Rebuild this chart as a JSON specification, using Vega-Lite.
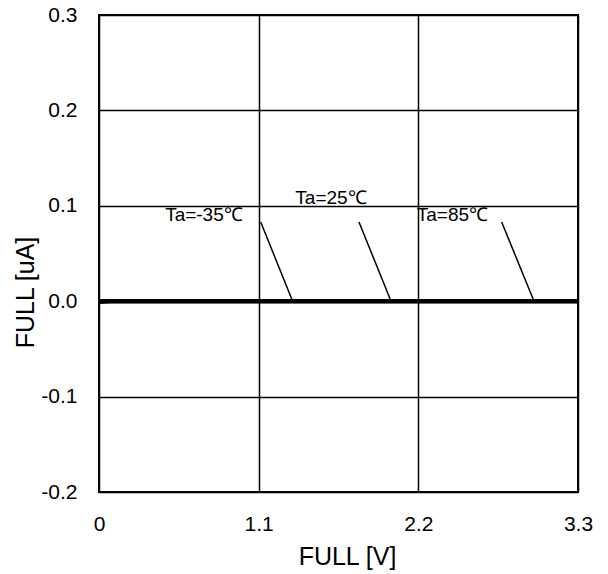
{
  "$schema": "https://vega.github.io/schema/vega-lite/v6.json",
  "autosize": {"type": "none"},
  "padding": {"left": 99, "top": 15, "right": 30, "bottom": 82},
  "width": 479,
  "height": 477,
  "background": "white",
  "config": {
    "font": "Liberation Sans",
    "view": {"stroke": "black", "strokeWidth": 2},
    "axis": {
      "domain": false,
      "ticks": false,
      "grid": true,
      "gridColor": "black",
      "gridOpacity": 1,
      "gridWidth": 1.5,
      "labelFont": "Liberation Sans",
      "labelFontSize": 21,
      "labelColor": "black",
      "titleFont": "Liberation Sans",
      "titleFontSize": 25,
      "titleFontWeight": "normal",
      "titleColor": "black"
    }
  },
  "datasets": {
    "curves": [
      {"series": "-35", "v": 0, "i": -0.0008},
      {"series": "-35", "v": 0.08, "i": 0.0},
      {"series": "-35", "v": 3.3, "i": 0.0},
      {"series": "25", "v": 0, "i": 0.0},
      {"series": "25", "v": 3.3, "i": 0.0},
      {"series": "85", "v": 0, "i": 0.0},
      {"series": "85", "v": 3.3, "i": 0.0}
    ],
    "leaders": [
      {"x1": 1.114, "y1": 0.083, "x2": 1.334, "y2": 0.0},
      {"x1": 1.791, "y1": 0.083, "x2": 2.012, "y2": 0.0},
      {"x1": 2.774, "y1": 0.083, "x2": 2.997, "y2": 0.0}
    ],
    "labels": [
      {"x": 0.723, "y": 0.090, "text": "Ta=-35℃"},
      {"x": 1.598, "y": 0.1085, "text": "Ta=25℃"},
      {"x": 2.435, "y": 0.090, "text": "Ta=85℃"}
    ]
  },
  "layer": [
    {
      "data": {"name": "curves"},
      "mark": {"type": "line", "color": "black", "strokeWidth": 4, "clip": false},
      "encoding": {
        "x": {
          "field": "v", "type": "quantitative",
          "scale": {"domain": [0, 3.3], "nice": false, "zero": false},
          "axis": {"values": [0, 1.1, 2.2, 3.3], "labelExpr": "datum.value == 0 ? '0' : format(datum.value, '.1f')", "labelPadding": 21, "titlePadding": 10, "titleX": 248, "title": "FULL [V]", "labelFlush": false}
        },
        "y": {
          "field": "i", "type": "quantitative",
          "scale": {"domain": [-0.2, 0.3], "nice": false, "zero": false},
          "axis": {"values": [-0.2, -0.1, 0, 0.1, 0.2, 0.3], "labelExpr": "datum.value < 0 ? '-' + format(-datum.value, '.1f') : format(datum.value, '.1f')", "labelPadding": 22, "titlePadding": 2, "titleY": 277, "title": "FULL [uA]", "labelFlush": false}
        },
        "detail": {"field": "series"}
      }
    },
    {
      "data": {"name": "leaders"},
      "mark": {"type": "rule", "color": "black", "strokeWidth": 1.5},
      "encoding": {
        "x": {"field": "x1", "type": "quantitative"},
        "y": {"field": "y1", "type": "quantitative"},
        "x2": {"field": "x2"},
        "y2": {"field": "y2"}
      }
    },
    {
      "data": {"name": "labels"},
      "mark": {"type": "text", "font": "Liberation Sans", "fontSize": 19, "color": "black", "align": "center", "baseline": "middle"},
      "encoding": {
        "x": {"field": "x", "type": "quantitative"},
        "y": {"field": "y", "type": "quantitative"},
        "text": {"field": "text"}
      }
    }
  ]
}
